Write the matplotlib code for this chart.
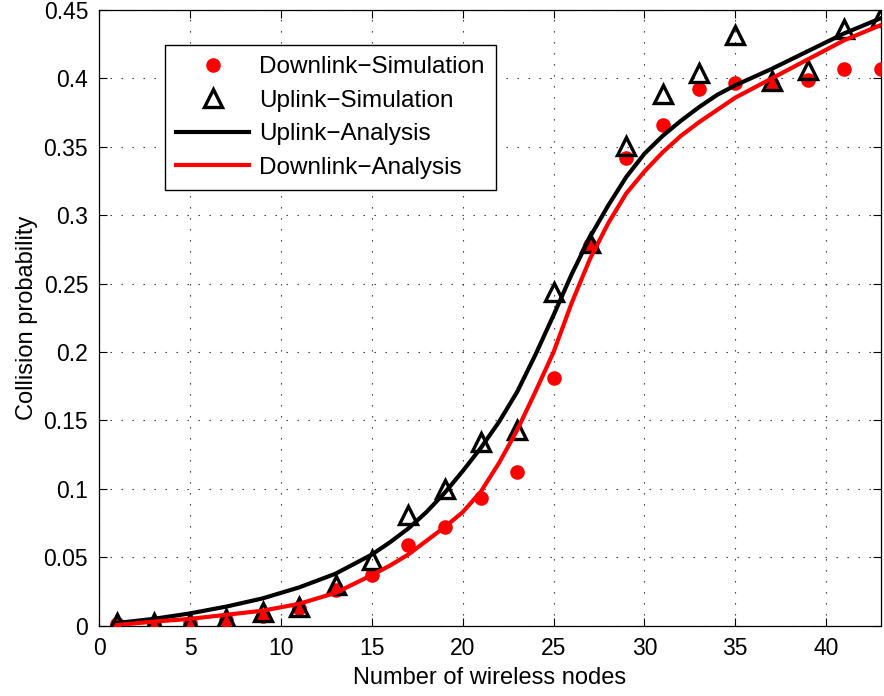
import matplotlib
matplotlib.use("Agg")
import matplotlib.pyplot as plt
from matplotlib.ticker import FormatStrFormatter, MultipleLocator

# ---- data ----
sim_nodes = [1, 3, 5, 7, 9, 11, 13, 15, 17, 19, 21, 23, 25, 27, 29, 31, 33, 35, 37, 39, 41, 43]
downlink_sim = [0.001, 0.001, 0.002, 0.004, 0.007, 0.013, 0.026, 0.037, 0.059, 0.072, 0.093, 0.112,
                0.181, 0.278, 0.342, 0.366, 0.392, 0.397, 0.396, 0.399, 0.407, 0.407]
uplink_sim = [0.002, 0.002, 0.002, 0.005, 0.010, 0.014, 0.030, 0.048, 0.081, 0.100, 0.134, 0.143,
              0.244, 0.280, 0.351, 0.389, 0.404, 0.432, 0.398, 0.406, 0.436, 0.445]

ana_nodes = [1, 3, 5, 7, 9, 11, 13, 15, 16, 17, 18, 19, 20, 21, 22, 23, 24, 25, 26, 27, 28, 29,
             30, 31, 32, 33, 34, 35, 36, 37, 39, 41, 43]
uplink_ana = [0.002, 0.005, 0.009, 0.014, 0.020, 0.028, 0.038, 0.052, 0.061, 0.071, 0.083, 0.097,
              0.113, 0.130, 0.149, 0.171, 0.198, 0.227, 0.257, 0.284, 0.307, 0.328, 0.345, 0.358,
              0.369, 0.379, 0.388, 0.395, 0.401, 0.407, 0.420, 0.433, 0.444]
downlink_ana = [0.0005, 0.003, 0.005, 0.008, 0.011, 0.016, 0.024, 0.037, 0.044, 0.052, 0.062, 0.072,
                0.083, 0.098, 0.119, 0.143, 0.171, 0.200, 0.236, 0.268, 0.294, 0.316, 0.332, 0.346,
                0.358, 0.368, 0.377, 0.386, 0.393, 0.400, 0.414, 0.428, 0.439]

x_ticks = [0, 5, 10, 15, 20, 25, 30, 35, 40]
labels = ["Downlink\u2212Simulation", "Uplink\u2212Simulation", "Uplink\u2212Analysis", "Downlink\u2212Analysis"]

plt.rcParams['font.family'] = ['Liberation Sans', 'DejaVu Sans']
FS = 16.5

fig = plt.figure(figsize=(8.84, 6.96), dpi=100)
ax = fig.add_axes([0.1123, 0.101, 0.9962 - 0.1123, 0.9855 - 0.101])

ax.plot(sim_nodes, downlink_sim, linestyle='none', marker='o', ms=10.5, color='#ff0000',
        markeredgewidth=0, label=labels[0], zorder=3)
ax.plot(sim_nodes, uplink_sim, linestyle='none', marker='^', ms=13, markerfacecolor='none',
        markeredgecolor='black', markeredgewidth=2.4, label=labels[1], zorder=4)
ax.plot(ana_nodes, uplink_ana, color='black', lw=3, label=labels[2], zorder=5)
ax.plot(ana_nodes, downlink_ana, color='#ff0000', lw=3, label=labels[3], zorder=6)

ax.set_xlim(0, 43)
ax.set_ylim(0, 0.45)
ax.set_xticks(x_ticks)
ax.yaxis.set_major_locator(MultipleLocator(0.05))
ax.yaxis.set_major_formatter(FormatStrFormatter('%g'))
ax.grid(True, color='#222222', linestyle=(0, (1.2, 8.7)), linewidth=0.8)
ax.tick_params(direction='in', top=True, right=True, length=6, width=0.8, labelsize=FS, pad=8)
for s in ax.spines.values():
    s.set_linewidth(0.9)

ax.set_xlabel("Number of wireless nodes", fontsize=17, labelpad=5)
ax.set_ylabel("Collision probability", fontsize=17, labelpad=4)

leg = ax.legend(loc='upper left', bbox_to_anchor=(0.0846, 0.9425), fontsize=17.5, frameon=True,
                fancybox=False, edgecolor='black', framealpha=1, handlelength=3.0,
                handletextpad=0.42, labelspacing=0.47, borderpad=0.45, borderaxespad=0)
leg.get_frame().set_linewidth(1.0)

fig.savefig("out.png", dpi=100)
